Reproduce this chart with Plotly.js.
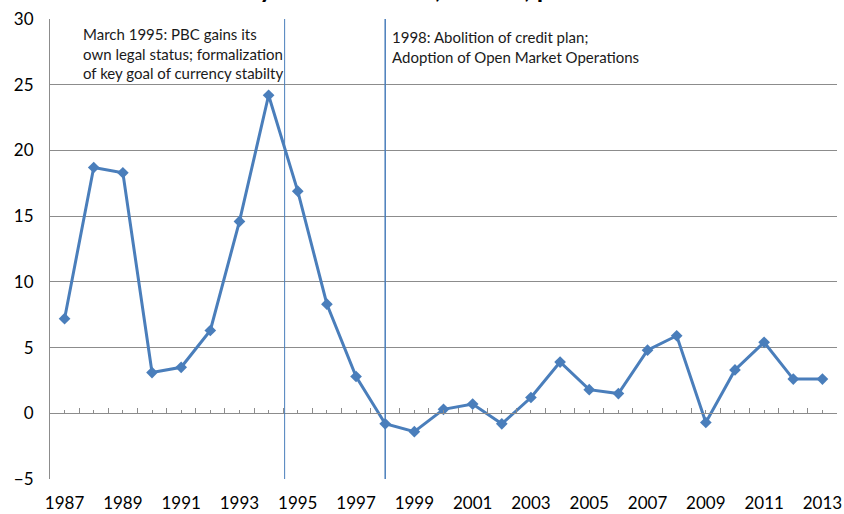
<!DOCTYPE html>
<html>
<head>
<meta charset="utf-8">
<script src="https://cdn.plot.ly/plotly-3.0.1.min.js"></script>
<style>html,body{margin:0;padding:0;background:#fff}#chart{width:844px;height:514px}</style>
</head>
<body>
<div id="chart"></div>
<script>
const years = [1987,1988,1989,1990,1991,1992,1993,1994,1995,1996,1997,1998,1999,2000,2001,2002,2003,2004,2005,2006,2007,2008,2009,2010,2011,2012,2013];
const inflation = [7.2,18.7,18.3,3.1,3.5,6.3,14.6,24.2,16.9,8.3,2.8,-0.8,-1.4,0.3,0.7,-0.8,1.2,3.9,1.8,1.5,4.8,5.9,-0.7,3.3,5.4,2.6,2.6];
const labelYears = [1987,1989,1991,1993,1995,1997,1999,2001,2003,2005,2007,2009,2011,2013];
const eventX = [1994.55, 1998];
const eventTexts = [
  ["March 1995: PBC gains its", "own legal status; formalization", "of key goal of currency stabilty"],
  ["1998: Abolition of credit plan;", "Adoption of Open Market Operations"]
];
const titleText = "Yearly Inflation Rate, annual, percent";

const blue = '#4a7ebb';
const grid = '#8c8c8c';
const font = 'Lato, "Open Sans", sans-serif';

const traces = [
  {x: years, y: inflation, type: 'scatter', mode: 'lines+markers',
   line: {color: blue, width: 3}, marker: {symbol: 'diamond', size: 9, color: blue},
   hoverinfo: 'x+y', showlegend: false},
  {x: years, y: inflation, xaxis: 'x2', yaxis: 'y', type: 'scatter', mode: 'markers',
   marker: {opacity: 0}, hoverinfo: 'skip', showlegend: false}
];

const blockY = [[0.967, 0.924, 0.883], [0.961, 0.917]];
const annotations = [];
eventTexts[0].forEach((t, i) => annotations.push({
  text: t, xref: 'paper', yref: 'paper', x: 0.0394, y: blockY[0][i],
  xanchor: 'left', yanchor: 'middle', showarrow: false,
  font: {family: font, size: 15, color: '#1a1a1a'}
}));
eventTexts[1].forEach((t, i) => annotations.push({
  text: t, xref: 'x', yref: 'paper', x: eventX[1], xshift: 5, y: blockY[1][i],
  xanchor: 'left', yanchor: 'middle', showarrow: false,
  font: {family: font, size: 15, color: '#1a1a1a'}
}));
annotations.push({
  text: '<b>' + titleText + '</b>', xref: 'paper', yref: 'paper', x: 0.733, y: 1.029,
  xanchor: 'right', yanchor: 'bottom', showarrow: false,
  font: {family: font, size: 26, color: '#000'}
});

const shapes = eventX.map((x, i) => ({
  type: 'line', xref: 'x', yref: 'paper', x0: x, x1: x, y0: 0, y1: 1,
  line: {color: blue, width: i === 0 ? 1 : 1.5}
}));

const layout = {
  width: 844, height: 514,
  margin: {l: 50, r: 7, t: 19, b: 35},
  paper_bgcolor: '#fff', plot_bgcolor: '#fff',
  font: {family: font, color: '#000'},
  xaxis: {range: [1986.5, 2013.5], tickvals: labelYears, ticktext: labelYears.map(String),
          showgrid: false, showline: false, zeroline: false, ticks: '',
          ticklabelstandoff: 12, tickfont: {size: 17, family: font, color: '#000'}},
  xaxis2: {range: [1986.5, 2013.5], overlaying: 'x', anchor: 'free', position: 5/35,
           showline: true, linecolor: grid, linewidth: 1, showgrid: false, zeroline: false,
           showticklabels: false, ticks: 'inside', tick0: 1986.5, dtick: 1, ticklen: 5,
           tickcolor: grid, tickwidth: 1,
           minor: {ticks: 'inside', tickvals: years, ticklen: 3, tickcolor: grid, tickwidth: 1, showgrid: false}},
  yaxis: {range: [-5, 30], dtick: 5, tick0: 0, showgrid: true, gridcolor: grid, gridwidth: 1,
          zeroline: false, showline: true, linecolor: grid, linewidth: 1, ticks: '',
          ticklabelstandoff: 12, tickfont: {size: 17, family: font, color: '#000'}},
  shapes: shapes,
  annotations: annotations,
  showlegend: false
};

Plotly.newPlot('chart', traces, layout, {displayModeBar: false, staticPlot: true});
</script>
</body>
</html>
